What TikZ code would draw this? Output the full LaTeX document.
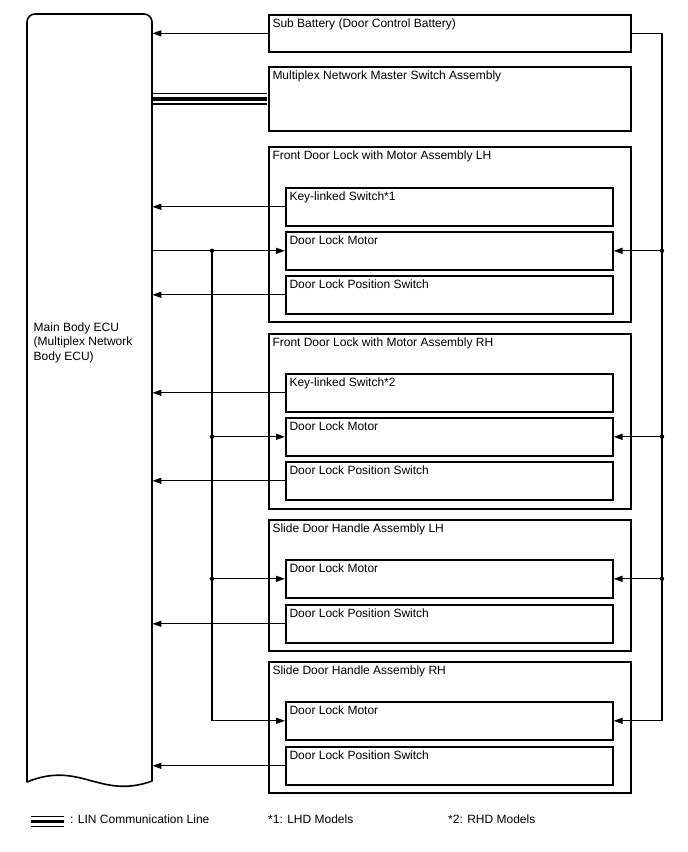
\documentclass[tikz,border=0pt]{standalone}
\usepackage{fontspec}
\setmainfont{Liberation Sans}
\usetikzlibrary{arrows.meta}
\begin{document}
\begin{tikzpicture}[x=1pt,y=-1pt,
  font=\fontsize{12}{14.5}\selectfont,
  outer/.style={draw, line width=1.6pt, inner sep=0pt, anchor=north west, minimum width=362pt},
  inner/.style={draw, line width=1.6pt, inner sep=0pt, anchor=north west, minimum width=327pt, minimum height=38pt},
  lbl/.style={anchor=base west, inner sep=0pt, xshift=4.3pt, yshift=-13.3pt},
  conn/.style={line width=1.3pt},
  arr/.style={conn, -{Triangle[length=9pt,width=6pt]}},
  dot/.style={circle, fill, inner sep=0pt, minimum size=4.4pt},
  linout/.style={line width=1.2pt, double distance=9.2pt, shorten <=0.8pt, shorten >=0.8pt},
  linmid/.style={line width=3.8pt, shorten <=0.8pt, shorten >=0.8pt},
  eculine/.style={line width=1.6pt, line join=round},
  legend/.style={anchor=base west, inner sep=0pt}
]
\useasboundingbox (0,0) rectangle (688,852);

% Main Body ECU (anchor node, outline drawn below)
\node[minimum width=125pt, minimum height=768pt, inner sep=0pt, anchor=north west] (ecu) at (27,14) {};
\node[anchor=north west, inner sep=0pt, align=left] (ecutxt) at (33.5,322.5) {Main Body ECU\\(Multiplex Network\\Body ECU)};

% Boxes
\node[outer, minimum height=37pt, label={[lbl]north west:Sub Battery (Door Control Battery)}] (sb) at (268,14) {};
\node[outer, minimum height=64pt, label={[lbl]north west:Multiplex Network Master Switch Assembly}] (mx) at (268,66) {};

\node[outer, minimum height=175pt, label={[lbl]north west:Front Door Lock with Motor Assembly LH}] (fl) at (268,146) {};
\node[inner, label={[lbl]north west:Key-linked Switch*1}] (fl1) at (285,187) {};
\node[inner, label={[lbl]north west:Door Lock Motor}] (fl2) at (285,231) {};
\node[inner, label={[lbl]north west:Door Lock Position Switch}] (fl3) at (285,275) {};

\node[outer, minimum height=175pt, label={[lbl]north west:Front Door Lock with Motor Assembly RH}] (fr) at (268,333) {};
\node[inner, label={[lbl]north west:Key-linked Switch*2}] (fr1) at (285,373) {};
\node[inner, label={[lbl]north west:Door Lock Motor}] (fr2) at (285,417) {};
\node[inner, label={[lbl]north west:Door Lock Position Switch}] (fr3) at (285,461) {};

\node[outer, minimum height=131pt, label={[lbl]north west:Slide Door Handle Assembly LH}] (sl) at (268,519) {};
\node[inner, label={[lbl]north west:Door Lock Motor}] (sl1) at (285,559) {};
\node[inner, label={[lbl]north west:Door Lock Position Switch}] (sl2) at (285,604) {};

\node[outer, minimum height=131pt, label={[lbl]north west:Slide Door Handle Assembly RH}] (sr) at (268,661) {};
\node[inner, label={[lbl]north west:Door Lock Motor}] (sr1) at (285,701) {};
\node[inner, label={[lbl]north west:Door Lock Position Switch}] (sr2) at (285,746) {};

% bus coordinates
\coordinate (lbus) at (212,0);
\coordinate (rbus) at (662,0);

% Sub battery
\draw[arr] (sb.west) -- (sb.west -| ecu.east);
\draw[arr] (sb.east) -| (rbus |- sr1.east) -- (sr1.east);
\foreach \b in {fl2,fr2,sl1}{
  \draw[arr] (rbus |- \b.east) -- (\b.east);
  \node[dot] at (rbus |- \b.east) {};
}

% LIN line
\draw[linout] (mx.west) -- (mx.west -| ecu.east);
\draw[linmid] (mx.west) -- (mx.west -| ecu.east);

% switches to ECU
\foreach \b in {fl1,fl3,fr1,fr3,sl2,sr2}{
  \draw[arr] (\b.west) -- (\b.west -| ecu.east);
}

% ECU to motors
\draw[arr] (ecu.east |- fl2.west) -- (fl2.west);
\draw[arr] (lbus |- fl2.west) |- (sr1.west);
\node[dot] at (lbus |- fl2.west) {};
\foreach \b in {fr2,sl1}{
  \draw[arr] (lbus |- \b.west) -- (\b.west);
  \node[dot] at (lbus |- \b.west) {};
}

% ECU outline
\draw[eculine] (27,782) -- (27,22) arc (180:270:8) -- (144,14) arc (270:360:8) -- (152,781)
  .. controls (100,800) and (80,760) .. (27,782) -- cycle;

% Legend
\coordinate (lg1) at (31,821.5);
\coordinate (lg2) at (64,821.5);
\draw[linout, shorten <=0pt, shorten >=0pt] (lg1) -- (lg2);
\draw[linmid, shorten <=0pt, shorten >=0pt] (lg1) -- (lg2);
\node[legend] (lgt) at (70,823.5) {: LIN Communication Line};
\node[legend] (n1) at (268,823.5) {*1: LHD Models};
\node[legend] (n2) at (448,823.5) {*2: RHD Models};
\end{tikzpicture}
\end{document}
